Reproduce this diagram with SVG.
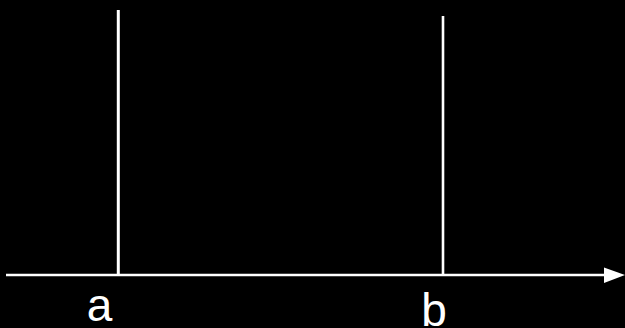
<svg xmlns="http://www.w3.org/2000/svg" width="625" height="328" viewBox="0 0 625 328">
<style>
.ln{stroke:#fff;stroke-width:2.6;fill:none}
.lbl{font-family:"Liberation Sans",Arial,sans-serif;font-size:46px;fill:#fff;text-anchor:middle}
</style>
<rect width="625" height="328" fill="#000"/>
<g id="connectors">
<line class="ln" x1="6" y1="275" x2="606" y2="275"/>
<polygon points="604,267.5 625,275 604,283" fill="#fff"/>
</g>
<g id="line-a">
<line class="ln" x1="118.3" y1="10" x2="118.3" y2="275" style="stroke-width:3"/>
<text class="lbl" x="99.5" y="321">a</text>
</g>
<g id="line-b">
<line class="ln" x1="443" y1="16" x2="443" y2="275"/>
<text class="lbl" x="434" y="326">b</text>
</g>
</svg>
